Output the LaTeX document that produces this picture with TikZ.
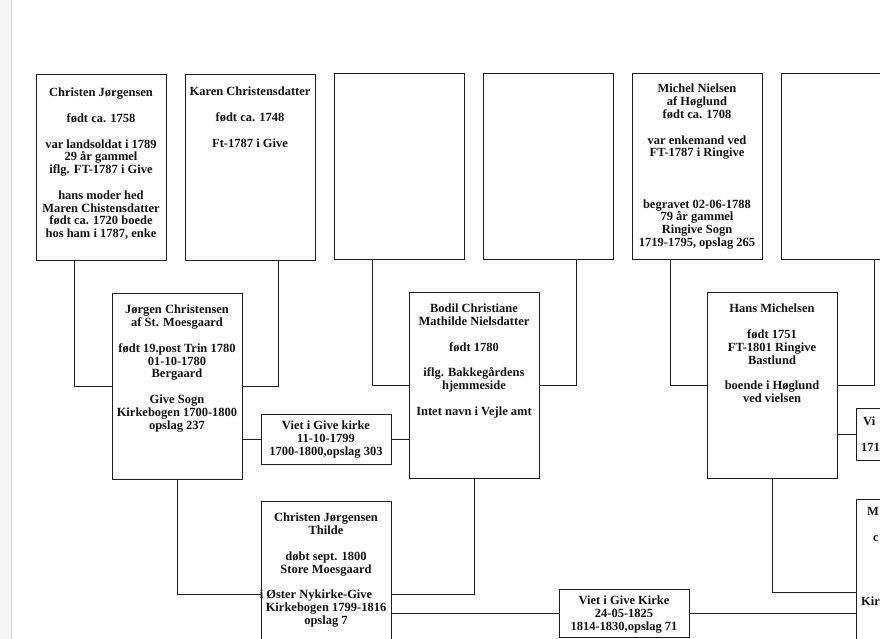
\documentclass[tikz,border=0pt]{standalone}
\usepackage{fontspec}
\setmainfont{Liberation Serif}
\usetikzlibrary{calc}
\definecolor{linec}{HTML}{1E1E1E}
\definecolor{textc}{HTML}{141414}
\begin{document}
\begin{tikzpicture}[x=1pt,y=-1pt,
  person/.style={draw=linec, line width=0.9pt, fill=white, minimum width=130pt, minimum height=186pt, anchor=north west, inner sep=0pt, outer sep=0pt},
  wed/.style={draw=linec, line width=0.9pt, fill=white, minimum width=130pt, anchor=north west, inner sep=0pt, outer sep=0pt},
  info/.style={font=\bfseries\fontsize{12.5}{12.8}\selectfont, align=center, anchor=north, inner sep=0pt, text=textc},
  edge/.style={font=\bfseries\fontsize{12.5}{12.8}\selectfont, anchor=base west, inner sep=0pt, text=textc},
  link/.style={draw=linec, line width=0.9pt}]
\useasboundingbox (0,0) rectangle (880,639);
\clip (0,0) rectangle (880,639);
\fill[white] (0,0) rectangle (880,639);
\fill[gray!6] (0,0) rectangle (11,639);
\draw[gray!35, line width=1pt] (11,0) -- (11,639);

% generation 1
\node[person] (A) at (36,74) {};
\node[person] (B) at (185,74) {};
\node[person] (C) at (334,73) {};
\node[person] (D) at (483,73) {};
\node[person] (E) at (632,73) {};
\node[person] (F) at (781,73) {};
% generation 2
\node[person] (G) at (112,293) {};
\node[person] (H) at (409,292) {};
\node[person] (J) at (707,292) {};
\node[wed, minimum height=50pt] (I) at (261,414) {};
\node[wed, minimum height=52pt] (K) at (856,408) {};
% generation 3
\node[person] (L) at (261,501) {};
\node[person] (N) at (856,499) {};
\node[wed, minimum height=48pt] (M) at (559,589) {};

% connectors
\draw[link] ($(A.south west)+(38,0)$) |- (G.west);
\draw[link] ($(B.south west)+(93,0)$) |- (G.east);
\draw[link] ($(C.south west)+(38,0)$) |- (H.west);
\draw[link] ($(D.south west)+(93,0)$) |- (H.east);
\draw[link] ($(E.south west)+(38,0)$) |- (J.west);
\draw[link] ($(F.south west)+(93,0)$) |- (J.east);
\draw[link] (I.west) -- (I.west -| G.east);
\draw[link] (I.east) -- (I.east -| H.west);
\draw[link] (K.west) -- (K.west -| J.east);
\draw[link] (G.south) |- (L.west);
\draw[link] (H.south) |- (L.east);
\draw[link] (J.south) |- (N.west);
\draw[link] (M.west) -- (M.west -| L.east);
\draw[link] (M.east) -- (M.east -| N.west);

% texts
\node[info] (At) at ($(A.north)+(0,14)$) {Christen Jørgensen\\[12.8pt] født ca. 1758\\[12.8pt] var landsoldat i 1789\\ 29 år gammel\\ iflg. FT-1787 i Give\\[12.8pt] hans moder hed\\ Maren Chistensdatter\\ født ca. 1720 boede\\ hos ham i 1787, enke};
\node[info] (Bt) at ($(B.north)+(0,13)$) {Karen Christensdatter\\[12.8pt] født ca.  1748\\[12.8pt] Ft-1787 i Give};
\node[info] (Et) at ($(E.north)+(0,11)$) {Michel Nielsen\\ af Høglund\\ født ca. 1708\\[12.8pt] var enkemand ved\\ FT-1787 i Ringive\\[38.4pt] begravet 02-06-1788\\ 79 år gammel\\ Ringive Sogn\\ 1719-1795, opslag 265};
\node[info] (Gt) at ($(G.north)+(0,12)$) {Jørgen Christensen\\ af St. Moesgaard\\[12.8pt] født  19.post Trin 1780\\ 01-10-1780\\ Bergaard\\[12.8pt] Give Sogn\\ Kirkebogen 1700-1800\\ opslag  237};
\node[info] (Ht) at ($(H.north)+(0,12)$) {Bodil  Christiane\\ Mathilde  Nielsdatter\\[12.8pt] født 1780\\[12.8pt] iflg. Bakkegårdens\\ hjemmeside\\[12.8pt] Intet navn i Vejle amt};
\node[info] (It) at ($(I.north)+(0,7)$) {Viet  i Give kirke\\ 11-10-1799\\ 1700-1800,opslag 303};
\node[info] (Jt) at ($(J.north)+(0,12)$) {Hans Michelsen\\[12.8pt] født 1751\\ FT-1801 Ringive\\ Bastlund\\[12.8pt] boende i Høglund\\ ved vielsen};
\node[info] (Lt) at ($(L.north)+(0,12)$) {Christen Jørgensen\\ Thilde\\[12.8pt] døbt sept. 1800\\ Store Moesgaard\\[12.8pt] \hspace*{-20pt}i Øster Nykirke-Give\\ Kirkebogen 1799-1816\\ opslag  7};
\node[info] (Mt) at ($(M.north)+(0,7)$) {Viet i Give Kirke\\ 24-05-1825\\ 1814-1830,opslag 71};
% texts cut by the page edge
\node[edge] (Kt1) at (863,425) {Vi};
\node[edge] (Kt2) at (861,451) {171};
\node[edge] (Nt1) at (867,515) {M};
\node[edge] (Nt2) at (873,541) {c};
\node[edge] (Nt3) at (861,605) {Kir};
\end{tikzpicture}
\end{document}
